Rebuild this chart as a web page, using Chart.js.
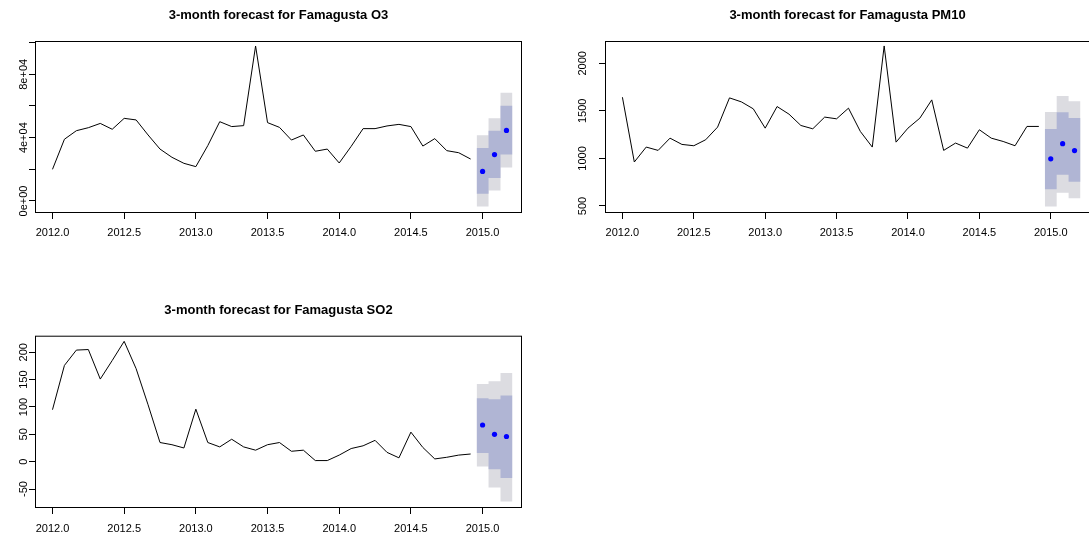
<!DOCTYPE html>
<html>
<head>
<meta charset="utf-8">
<script src="https://cdn.jsdelivr.net/npm/chart.js@4.4.1/dist/chart.umd.min.js"></script>
<style>
  html, body { margin: 0; padding: 0; background: #fff; overflow: hidden; width: 1089px; height: 540px; }
  canvas { position: absolute; }
</style>
</head>
<body>
<canvas id="o3" width="545" height="270" style="left:0;top:0"></canvas>
<canvas id="pm10" width="540" height="270" style="left:570px;top:0"></canvas>
<canvas id="so2" width="545" height="245" style="left:0;top:295px"></canvas>
<script>
// monthly series, Jan 2012 .. Dec 2014
const startYear = 2012;
const o3 = [20000, 39000, 44400, 46300, 49000, 45300, 52200, 51200, 41700, 32800, 27600, 23800,
            21700, 35000, 50100, 47000, 47600, 97900, 49500, 46500, 38500, 41700, 31400, 32800,
            24000, 34500, 45700, 45700, 47400, 48400, 47000, 34700, 39400, 31800, 30500, 26500];
const pm10 = [1643, 962, 1119, 1084, 1213, 1147, 1133, 1196, 1329, 1636, 1594, 1521,
              1318, 1545, 1465, 1346, 1311, 1434, 1416, 1528, 1283, 1119, 2182, 1171,
              1318, 1423, 1615, 1084, 1161, 1108, 1301, 1213, 1178, 1133, 1336, 1336];
const so2 = [95, 176, 204, 205, 151, 185, 220, 170, 104, 35, 31, 25,
             96, 35, 27, 41, 27, 21, 31, 35, 19, 21, 2, 2,
             12, 24, 29, 39, 17, 7, 54, 26, 5, 8, 12, 14];

// 3-month forecasts
const fcTimes = [2015.0, 2015.0833, 2015.1667];
const o3Fc = [18700, 29300, 44600];
const o3Lo80 = [4600, 14500, 29300];
const o3Hi80 = [33500, 44400, 60200];
const o3Lo95 = [-3400, 6700, 21100];
const o3Hi95 = [41500, 52200, 68400];

const pm10Fc = [995, 1155, 1082];
const pm10Lo80 = [675, 828, 754];
const pm10Hi80 = [1310, 1486, 1424];
const pm10Lo95 = [495, 640, 581];
const pm10Hi95 = [1488, 1657, 1600];

const so2Fc = [67, 50, 46];
const so2Lo80 = [16, -14, -30];
const so2Hi80 = [116, 114, 121];
const so2Lo95 = [-9, -47, -73];
const so2Hi95 = [142, 147, 162];

// axis ticks
const xTicks = [2012.0, 2012.5, 2013.0, 2013.5, 2014.0, 2014.5, 2015.0];
const o3Ticks = [0, 20000, 40000, 60000, 80000, 100000];
const o3Labels = ['0e+00', '', '4e+04', '', '8e+04', ''];
const pm10Ticks = [500, 1000, 1500, 2000];
const pm10Labels = ['500', '1000', '1500', '2000'];
const so2Ticks = [-50, 0, 50, 100, 150, 200];
const so2Labels = ['-50', '0', '50', '100', '150', '200'];

const FONT = 'Arial, "Liberation Sans", sans-serif';
const half = 1 / 24;

const asPoints = vals => vals.map((v, i) => ({ x: startYear + i / 12, y: v }));
const steps = vals => {
  const pts = vals.map((v, i) => ({ x: fcTimes[i] - half, y: v }));
  pts.push({ x: fcTimes[fcTimes.length - 1] + half, y: vals[vals.length - 1] });
  return pts;
};

// box round the plot + rotated y labels, R style
const rPlot = {
  id: 'rPlot',
  afterDraw(chart, args, opts) {
    const { ctx, chartArea: a } = chart;
    const y = chart.scales.y;
    ctx.save();
    ctx.strokeStyle = '#000';
    ctx.lineWidth = 1;
    ctx.strokeRect(a.left + 0.5, a.top + 0.5, a.right - a.left - 1, a.bottom - a.top - 1);
    ctx.fillStyle = '#000';
    ctx.font = '11px ' + FONT;
    ctx.textAlign = 'center';
    ctx.textBaseline = 'middle';
    opts.labels.forEach((t, i) => {
      if (!t) return;
      ctx.save();
      ctx.translate(opts.labelX, y.getPixelForValue(opts.ticks[i]));
      ctx.rotate(-Math.PI / 2);
      ctx.fillText(t, 0, 0);
      ctx.restore();
    });
    ctx.restore();
  }
};

function panel(id, p) {
  const canvas = document.getElementById(id);
  const bandCol80 = '#b0b5d4';
  const bandCol95 = '#dcdce1';
  return new Chart(canvas.getContext('2d'), {
    type: 'line',
    data: {
      datasets: [
        { data: asPoints(p.obs), borderColor: '#000', borderWidth: 1, pointRadius: 0, tension: 0, fill: false },
        { data: p.fc.map((v, i) => ({ x: fcTimes[i], y: v })), showLine: false, pointRadius: 2.6,
          pointBackgroundColor: '#0000ff', pointBorderWidth: 0, fill: false },
        { data: steps(p.hi80), stepped: true, borderWidth: 0, borderColor: 'transparent', pointRadius: 0,
          backgroundColor: bandCol80, fill: '+1' },
        { data: steps(p.lo80), stepped: true, borderWidth: 0, borderColor: 'transparent', pointRadius: 0, fill: false },
        { data: steps(p.hi95), stepped: true, borderWidth: 0, borderColor: 'transparent', pointRadius: 0,
          backgroundColor: bandCol95, fill: '+1' },
        { data: steps(p.lo95), stepped: true, borderWidth: 0, borderColor: 'transparent', pointRadius: 0, fill: false }
      ]
    },
    options: {
      responsive: false,
      animation: false,
      events: [],
      layout: { padding: { left: 0, top: 0, right: p.padRight, bottom: 0 } },
      scales: {
        x: {
          type: 'linear',
          min: 2011.878,
          max: 2015.275,
          afterBuildTicks: s => { s.ticks = xTicks.map(v => ({ value: v })); },
          afterFit: s => { s.height = p.xHeight; },
          grid: { drawOnChartArea: false, drawTicks: true, tickLength: 6, color: '#000' },
          border: { display: false },
          ticks: { color: '#000', font: { family: FONT, size: 11 }, padding: p.xPad,
                   maxRotation: 0, autoSkip: false, callback: v => v.toFixed(1) }
        },
        y: {
          type: 'linear',
          min: p.yMin,
          max: p.yMax,
          afterBuildTicks: s => { s.ticks = p.ticks.map(v => ({ value: v })); },
          afterFit: s => { s.width = 35; },
          grid: { drawOnChartArea: false, drawTicks: true, tickLength: 6, color: '#000' },
          border: { display: false },
          ticks: { display: false }
        }
      },
      plugins: {
        legend: { display: false },
        tooltip: { enabled: false },
        title: {
          display: true,
          text: p.title,
          fullSize: false,
          color: '#000',
          font: { family: FONT, size: 13, weight: 'bold' },
          padding: { top: 7.2, bottom: p.titleBottom }
        },
        rPlot: { labels: p.labels, ticks: p.ticks, labelX: p.labelX }
      }
    },
    plugins: [rPlot]
  });
}

panel('o3', {
  title: '3-month forecast for Famagusta O3',
  obs: o3, fc: o3Fc, lo80: o3Lo80, hi80: o3Hi80, lo95: o3Lo95, hi95: o3Hi95,
  yMin: -7580, yMax: 101050, ticks: o3Ticks, labels: o3Labels, labelX: 24,
  padRight: 23, xHeight: 57, xPad: 7, titleBottom: 18.2
});

panel('pm10', {
  title: '3-month forecast for Famagusta PM10',
  obs: pm10, fc: pm10Fc, lo80: pm10Lo80, hi80: pm10Hi80, lo95: pm10Lo95, hi95: pm10Hi95,
  yMin: 426, yMax: 2234, ticks: pm10Ticks, labels: pm10Labels, labelX: 13,
  padRight: 20, xHeight: 57, xPad: 7, titleBottom: 18.2
});

panel('so2', {
  title: '3-month forecast for Famagusta SO2',
  obs: so2, fc: so2Fc, lo80: so2Lo80, hi80: so2Hi80, lo95: so2Lo95, hi95: so2Hi95,
  yMin: -84.7, yMax: 230.3, ticks: so2Ticks, labels: so2Labels, labelX: 24,
  padRight: 23, xHeight: 32, xPad: 8, titleBottom: 17.9
});
</script>
</body>
</html>
